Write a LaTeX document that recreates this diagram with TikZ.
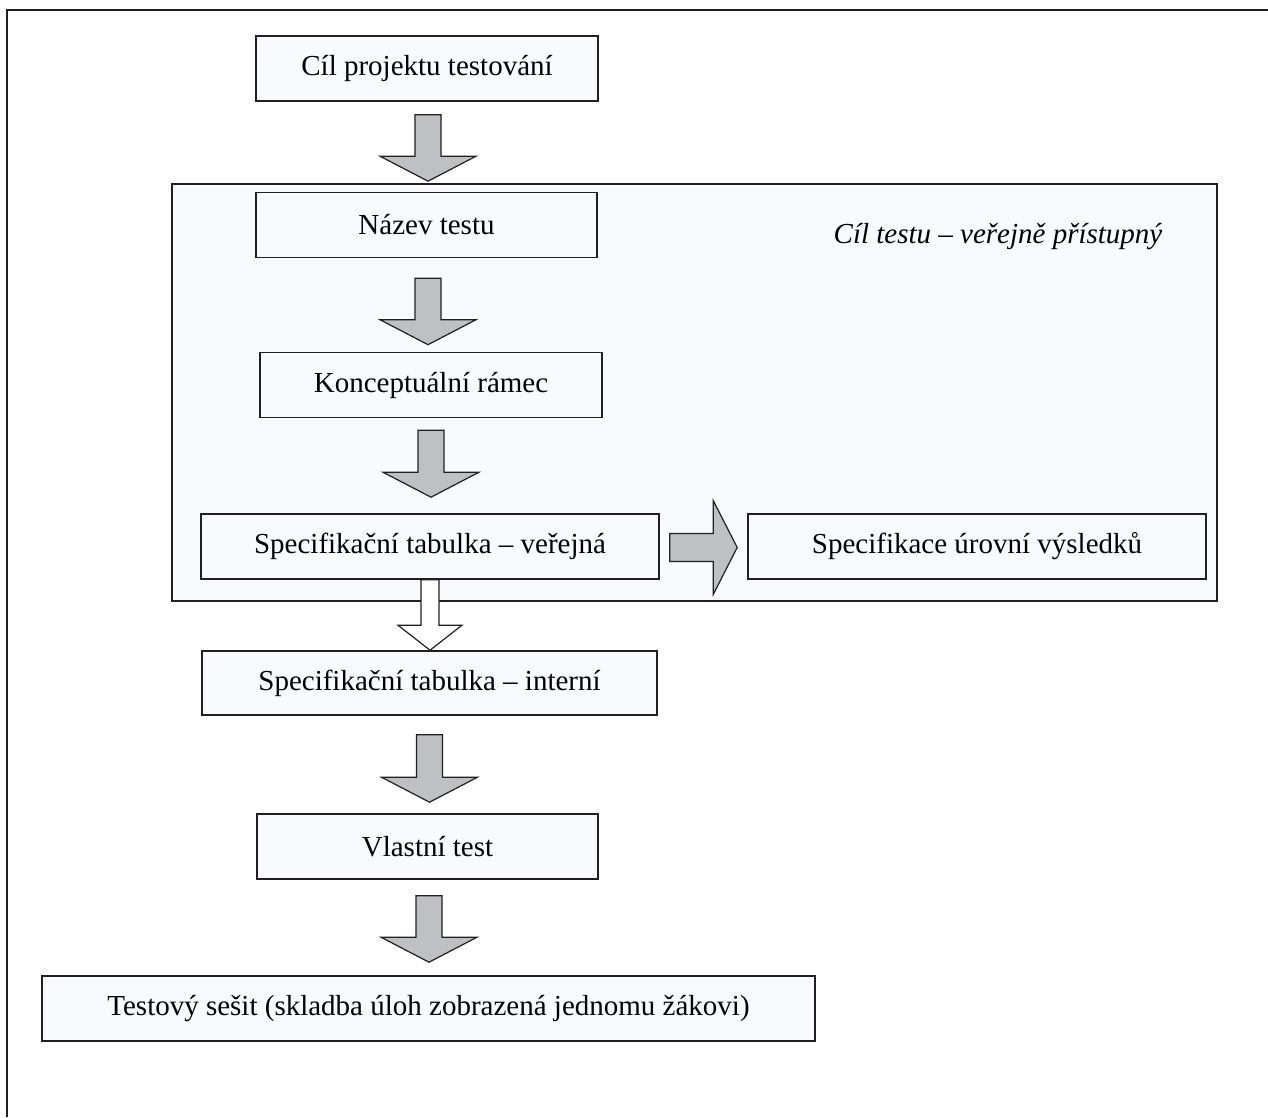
\documentclass[tikz,border=0pt]{standalone}
\usepackage{fontspec}
\setmainfont{Liberation Serif}
\usepackage{xcolor}
\usetikzlibrary{calc}

\definecolor{boxfill}{RGB}{249,250,252}
\definecolor{arrowgray}{RGB}{190,192,194}
\definecolor{linedark}{RGB}{35,31,32}

% block arrow pointing down: [style]{shaft top}{tip}{half shaft}{half head}
\newcommand{\fatdown}[5][fatarrow]{%
  \draw[#1] let \p1=(#2), \p2=(#3) in
    (\x1-#4,\y1) -- (\x1-#4,\y2+25pt) -- (\x1-#5,\y2+25pt) -- (\x1,\y2)
    -- (\x1+#5,\y2+25pt) -- (\x1+#4,\y2+25pt) -- (\x1+#4,\y1) -- cycle;}
% block arrow pointing right: [style]{shaft start}{tip}
\newcommand{\fatright}[3][fatarrow]{%
  \draw[#1] let \p1=(#2), \p2=(#3) in
    (\x1,\y1+14pt) -- (\x2-24pt,\y1+14pt) -- (\x2-24pt,\y1+47pt) -- (\x2,\y1)
    -- (\x2-24pt,\y1-47pt) -- (\x2-24pt,\y1-14pt) -- (\x1,\y1-14pt) -- cycle;}

\begin{document}
\begin{tikzpicture}[x=1pt,y=-1pt,
  stepbox/.style={draw=linedark,line width=1.6pt,fill=boxfill,minimum height=65,
    inner sep=0pt,font=\fontsize{29}{34}\selectfont},
  groupbox/.style={draw=linedark,line width=1.6pt,fill=boxfill,inner sep=0pt},
  fatarrow/.style={draw=linedark,line width=1.2pt,fill=arrowgray,line join=miter},
  hollowarrow/.style={fatarrow,fill=white}]
\useasboundingbox (0,0) rectangle (1268,1117);

% outer frame
\draw[linedark,line width=2.2pt] (7,1117) -- (7,10) -- (1268,10);

% Text Node
\node[stepbox,minimum width=342] (t1) at (427,68.5) {Cíl projektu testování};

% public part
\node[groupbox,minimum width=1045,minimum height=417] (grp) at (694.5,392.5) {};
\node[font=\fontsize{29}{34}\selectfont\itshape,anchor=base,inner sep=0pt] (goal) at (998,243) {Cíl testu – veřejně přístupný};

% Text Node
\node[stepbox,minimum width=341] (t2) at (426.5,225) {Název testu};
% Text Node
\node[stepbox,minimum width=342] (t3) at (431,385) {Konceptuální rámec};
% Text Node
\node[stepbox,minimum width=458] (t4) at (430,546.5) {Specifikační tabulka – veřejná};
% Text Node
\node[stepbox,minimum width=458] (t5) at (977,546.5) {Specifikace úrovní výsledků};
% Text Node
\node[stepbox,minimum width=455,minimum height=64] (t6) at (429.5,683) {Specifikační tabulka – interní};
% Text Node
\node[stepbox,minimum width=341] (t7) at (427.5,846.5) {Vlastní test};
% Text Node
\node[stepbox,minimum width=773] (t8) at (428.5,1008.5) {Testový sešit (skladba úloh zobrazená jednomu žákovi)};

% block arrows
\fatdown{$(t1.south)+(1,13)$}{$(grp.north)+(0,-2)$}{13pt}{48pt}
\fatdown{$(t2.south)+(1.5,20)$}{$(t3.north)+(0,-7)$}{13pt}{48pt}
\fatdown{$(t3.south)+(0,12)$}{$(t4.north)+(0,-16)$}{13pt}{48pt}
\fatright{$(t4.east)+(10,1)$}{$(t5.west)+(-10,0)$}
\fatdown[hollowarrow]{t4.south}{t6.north}{9pt}{32pt}
\fatdown{$(t6.south)+(0,19)$}{$(t7.north)+(0,-11)$}{13pt}{48pt}
\fatdown{$(t7.south)+(1.5,16)$}{$(t8.north)+(0,-13)$}{13pt}{48pt}

\end{tikzpicture}
\end{document}
